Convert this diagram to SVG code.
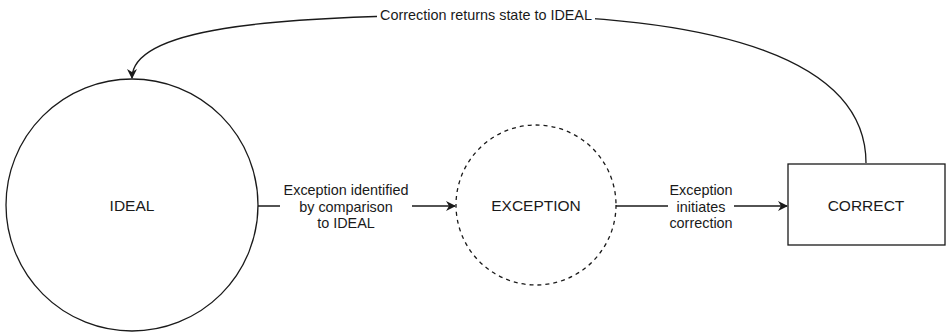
<svg xmlns="http://www.w3.org/2000/svg" width="946" height="333" viewBox="0 0 946 333">
<defs>
<style>
.node{fill:#fff;stroke:#1a1a1a;stroke-width:1.3}
.dash{stroke-dasharray:4 4}
.nl{font-family:"Liberation Sans",Arial,sans-serif;font-size:15.5px;fill:#1a1a1a;text-anchor:middle}
.el{font-family:"Liberation Sans",Arial,sans-serif;font-size:14.4px;fill:#1a1a1a;text-anchor:middle}
.edge{fill:none;stroke:#1a1a1a;stroke-width:1.3}
.bg{fill:#fff}
</style>
<marker id="arr" viewBox="0 0 10 10" refX="9" refY="5" markerWidth="10" markerHeight="10" markerUnits="userSpaceOnUse" orient="auto">
<path d="M0,0 L10,5 L0,10 L3,5 Z" fill="#1a1a1a"/>
</marker>
</defs>
<rect width="946" height="333" fill="#fff"/>
<g id="connectors">
<path class="edge" d="M866,163 C866,60 720,15 486,15 C260,15 132,30 132,78" marker-end="url(#arr)"/>
<rect class="bg" x="377" y="6" width="218" height="18"/>
<text class="el" x="486" y="20">Correction returns state to IDEAL</text>
<path class="edge" d="M258,206 L455,206" marker-end="url(#arr)"/>
<rect class="bg" x="280" y="180" width="132" height="52"/>
<text class="el" x="346" y="195">Exception identified</text>
<text class="el" x="346" y="212">by comparison</text>
<text class="el" x="346" y="228">to IDEAL</text>
<path class="edge" d="M616,206 L787,206" marker-end="url(#arr)"/>
<rect class="bg" x="668" y="180" width="66" height="52"/>
<text class="el" x="701" y="195">Exception</text>
<text class="el" x="701" y="212">initiates</text>
<text class="el" x="701" y="228">correction</text>
</g>
<g id="ideal">
<circle class="node" cx="132" cy="205" r="126"/>
<text class="nl" x="132" y="211">IDEAL</text>
</g>
<g id="exception">
<circle class="node dash" cx="536" cy="205" r="80"/>
<text class="nl" x="536" y="211">EXCEPTION</text>
</g>
<g id="correct">
<rect class="node" x="788" y="164" width="157" height="81"/>
<text class="nl" x="866" y="211">CORRECT</text>
</g>
</svg>
